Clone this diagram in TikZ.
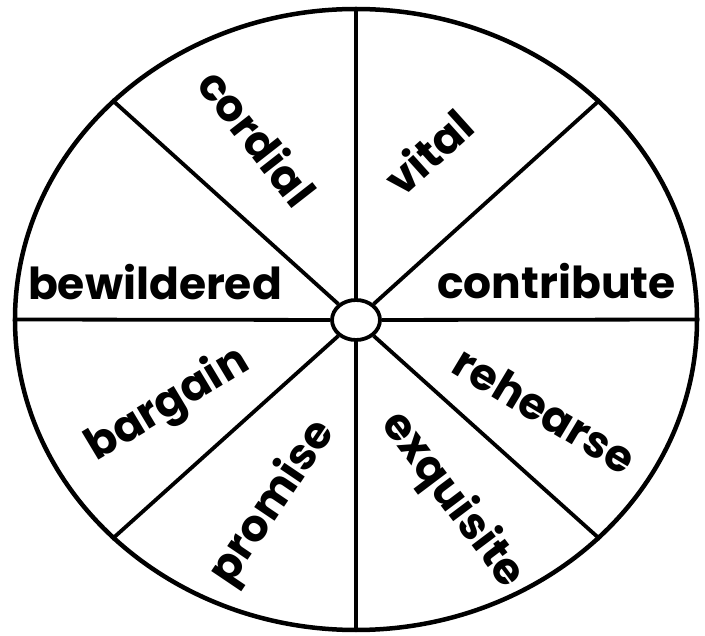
\documentclass[tikz,border=0pt]{standalone}
\usepackage{fontspec}
\setmainfont{Poppins}
\usetikzlibrary{shapes.geometric}
\tikzset{
  rim/.style={draw, ellipse, line width=4.5pt, inner sep=0pt},
  spoke/.style={line width=3.8pt},
  word/.style={font=\fontsize{44}{50}\selectfont\bfseries, inner sep=0pt}
}
\begin{document}
\begin{tikzpicture}[x=1pt,y=-1pt]
\useasboundingbox (0,0) rectangle (705,636);
\node[rim, minimum width=682pt, minimum height=621pt] (wheel) at (356,319.5) {};
\node[rim, line width=3.8pt, minimum width=48pt, minimum height=40pt] (hub) at (356,320) {};
\draw[spoke] (hub) -- (wheel.north);
\draw[spoke] (hub) -- (wheel.south);
\draw[spoke] (hub) -- (wheel.east);
\draw[spoke] (hub) -- (wheel.west);
\draw[spoke] (hub) -- (wheel.42);
\draw[spoke] (hub) -- (wheel.138);
\draw[spoke] (hub) -- (wheel.222);
\draw[spoke] (hub) -- (wheel.318);
\node[word, rotate=-52] (w1) at (258,137) {cordial};
\node[word, rotate=42] (w2) at (428,152) {vital};
\node[word] (w3) at (556.5,281.5) {contribute};
\node[word] (w4) at (155,282.5) {bewildered};
\node[word, rotate=31] (w5) at (168,405) {bargain};
\node[word, rotate=56] (w6) at (273,503) {promise};
\node[word, rotate=-31] (w7) at (545,410) {rehearse};
\node[word, rotate=-53] (w8) at (452,500) {exquisite};
\end{tikzpicture}
\end{document}
